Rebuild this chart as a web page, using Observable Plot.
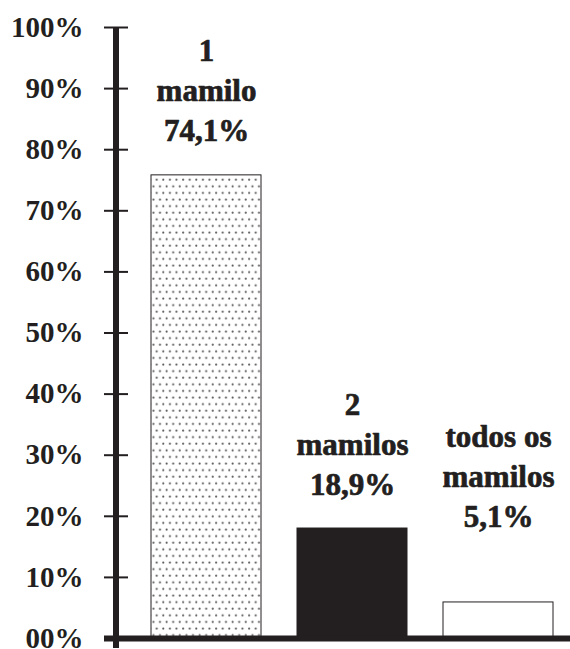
<!DOCTYPE html>
<html>
<head>
<meta charset="utf-8">
<script src="https://cdn.jsdelivr.net/npm/d3@7"></script>
<script src="https://cdn.jsdelivr.net/npm/@observablehq/plot@0.6"></script>
<style>
  html, body { margin: 0; padding: 0; background: #ffffff; }
  #chart { width: 570px; height: 649px; }
</style>
</head>
<body>
<div id="chart"></div>
<script>
// Data
const categories = ["1 mamilo", "2 mamilos", "todos os mamilos"];
const barValues = [75.8, 18.0, 5.9];            // bar heights as drawn (%)
const labelTexts = ["1\nmamilo\n74,1%", "2\nmamilos\n18,9%", "todos os\nmamilos\n5,1%"];
const yTicks = [0, 10, 20, 30, 40, 50, 60, 70, 80, 90, 100];
const yTickLabels = ["00%", "10%", "20%", "30%", "40%", "50%", "60%", "70%", "80%", "90%", "100%"];

const data = categories.map((c, i) => ({category: c, value: barValues[i], label: labelTexts[i]}));

const INK = "#231f20";
const FONT = "'Liberation Serif', 'Times New Roman', serif";

const axisLine = (index, scales, values, dims) => {
  const g = d3.create("svg:g");
  g.append("line")
    .attr("x1", dims.marginLeft).attr("x2", dims.marginLeft)
    .attr("y1", scales.y(100)).attr("y2", scales.y(0) + 10)
    .attr("stroke", INK).attr("stroke-width", 6);
  return g.node();
};

const labelStyle = {fontSize: 31, fontWeight: "bold", fill: INK, stroke: INK, strokeWidth: 0.7,
  fontFamily: FONT, lineAnchor: "bottom", lineHeight: 1.29};

const chart = Plot.plot({
  width: 570,
  height: 649,
  marginLeft: 116,
  marginRight: 0,
  marginTop: 27,
  marginBottom: 11,
  style: {fontFamily: FONT, background: "white", color: INK},
  x: {domain: categories, axis: null, paddingInner: 0.245, paddingOuter: 0.167, align: 0.673},
  y: {domain: [0, 100], label: null},
  color: {type: "ordinal", domain: categories, range: ["url(#dots)", INK, "white"]},
  marks: [
    Plot.barY(data, {x: "category", y: "value", fill: "category", stroke: INK, strokeWidth: 1}),
    Plot.ruleY([0], {stroke: INK, strokeWidth: 6, insetLeft: -12}),
    axisLine,
    Plot.axisY({ticks: yTicks, tickSize: 24, dx: 12, label: null, tickFormat: () => "", stroke: INK, strokeWidth: 2}),
    Plot.axisY({ticks: yTicks, tickSize: 0, tickPadding: 33, label: null,
      tickFormat: (d) => yTickLabels[yTicks.indexOf(d)],
      fontSize: 29, fontWeight: "bold", fill: INK, stroke: INK, strokeWidth: 0.6, fontFamily: FONT}),
    Plot.text(data.filter((d, i) => i < 2), {x: "category", y: "value", text: "label", dy: -34, ...labelStyle}),
    Plot.text(data.filter((d, i) => i === 2), {x: "category", y: "value", text: "label", dy: -75, ...labelStyle})
  ]
});

// dotted fill pattern for first bar
const svg = d3.select(chart);
const defs = svg.insert("defs", ":first-child");
const pat = defs.append("pattern")
  .attr("id", "dots").attr("patternUnits", "userSpaceOnUse")
  .attr("width", 6.6).attr("height", 13.2);
pat.append("rect").attr("width", 6.6).attr("height", 13.2).attr("fill", "white");
pat.append("circle").attr("cx", 1.6).attr("cy", 1.6).attr("r", 1.05).attr("fill", "#555");
pat.append("circle").attr("cx", 4.9).attr("cy", 8.2).attr("r", 1.05).attr("fill", "#555");

document.getElementById("chart").appendChild(chart);
</script>
</body>
</html>
